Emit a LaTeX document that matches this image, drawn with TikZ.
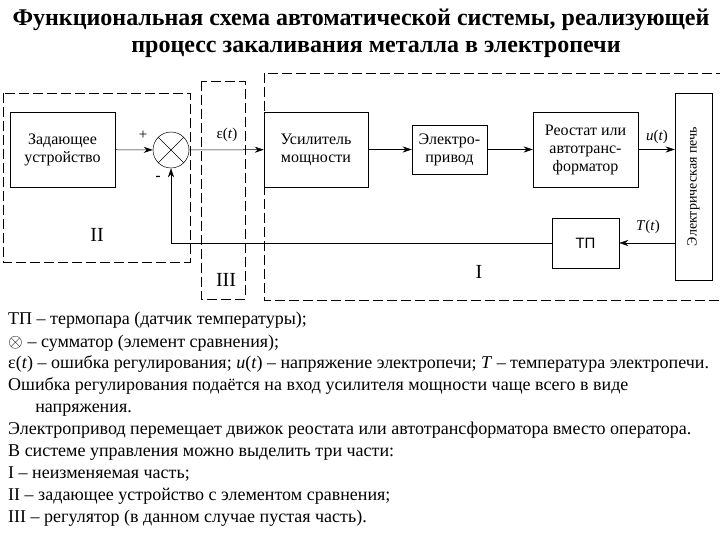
\documentclass[tikz,border=0pt]{standalone}
\usepackage{fontspec}
\setmainfont{Liberation Serif}
\setsansfont{Liberation Sans}
\usetikzlibrary{positioning,arrows.meta}

\begin{document}
\begin{tikzpicture}[x=1pt,y=-1pt,line width=0.5pt,>={Stealth[length=9pt,width=6pt]},
  blk/.style={draw,align=center,inner sep=1pt,font=\fontsize{16}{18}\selectfont},
  zone/.style={draw,dash pattern=on 10pt off 4pt,line width=0.6pt},
  lbl/.style={font=\fontsize{15}{17}\selectfont},
  part/.style={font=\fontsize{20}{22}\selectfont},
  txt/.style={anchor=base west,inner sep=0pt,font=\fontsize{18}{20}\selectfont}]
  \useasboundingbox (0,0) rectangle (720,540);

  % title
  \node[anchor=base,font=\bfseries\fontsize{24}{28}\selectfont] (title1) at (361,26)
    {Функциональная схема автоматической системы, реализующей};
  \node[anchor=base,font=\bfseries\fontsize{24}{28}\selectfont] (title2) at (376,53)
    {процесс закаливания металла в электропечи};

  % dashed parts
  \draw[zone] (3,93) rectangle (190,262);
  \draw[zone] (201,81) rectangle (245,299);
  \draw[zone] (264,73) rectangle (730,300);
  \node[part] (partII) at (97,235) {II};
  \node[part] (partIII) at (226,280) {III};
  \node[part] (partI) at (479,272) {I};

  % blocks
  \node[blk,minimum width=105,minimum height=75] (zad) at (62.5,149.5) {Задающее\\устройство};
  \node[draw,circle,minimum size=36,inner sep=0pt] (sum) at (171,150) {};
  \draw (sum.north west) -- (sum.south east) (sum.north east) -- (sum.south west);
  \node[blk,minimum width=104,minimum height=75] (usil) at (316,149.5) {Усилитель\\мощности};
  \node[blk,minimum width=75,minimum height=49] (priv) at (449.5,149.5) {Электро-\\привод};
  \node[blk,minimum width=105,minimum height=75] (reos) at (585.5,149.5) {Реостат или\\автотранс-\\форматор};
  \node[draw,minimum width=37,minimum height=187,inner sep=0pt] (pech) at (693.5,186.5) {};
  \node[rotate=90,font=\fontsize{14}{16}\selectfont] (pechtxt) at (pech.center) {Электрическая печь};
  \node[draw,minimum width=67,minimum height=50,font=\sffamily\fontsize{15}{17}\selectfont] (tp) at (585.5,243) {ТП};

  % signals
  \draw[->] (zad) -- (sum);
  \draw[->] (sum) -- (usil);
  \draw[->] (usil) -- (priv);
  \draw[->] (priv) -- (reos);
  \draw[->] (reos.east) -- (reos.east -| pech.west);
  \draw[->] (pech.west |- tp.east) -- (tp.east);
  \draw[->] (tp.west) -| (sum.south);

  \node[lbl] (plus) at (143,135) {+};
  \node[lbl,font=\bfseries\fontsize{15}{17}\selectfont] (minus) at (158,178) {-};
  \node[lbl] (eps) at (227,135) {ε(\textit{t})};
  \node[lbl] (uout) at (657,137) {\textit{u}(\textit{t})};
  \node[lbl] (tout) at (648,227) {\textit{T}(\textit{t})};

  % notes
  \foreach \y/\txt [count=\i] in {
    324/{ТП – термопара (датчик температуры);},
    347/{\scalebox{1.1}{$\otimes$} – сумматор (элемент сравнения);},
    368/{ε(\textit{t}) – ошибка регулирования; \textit{u}(\textit{t}) – напряжение электропечи; \textit{T} – температура электропечи.},
    390/{Ошибка регулирования подаётся на вход усилителя мощности чаще всего в виде},
    434/{Электропривод перемещает движок реостата или автотрансформатора вместо оператора.},
    456/{В системе управления можно выделить три части:},
    478/{I – неизменяемая часть;},
    500/{II – задающее устройство с элементом сравнения;},
    522/{III – регулятор (в данном случае пустая часть).}}
  {
    \node[txt] (note\i) at (8,\y) {\txt};
  }
  \node[txt] (note4b) at (35,412) {напряжения.};
\end{tikzpicture}
\end{document}
